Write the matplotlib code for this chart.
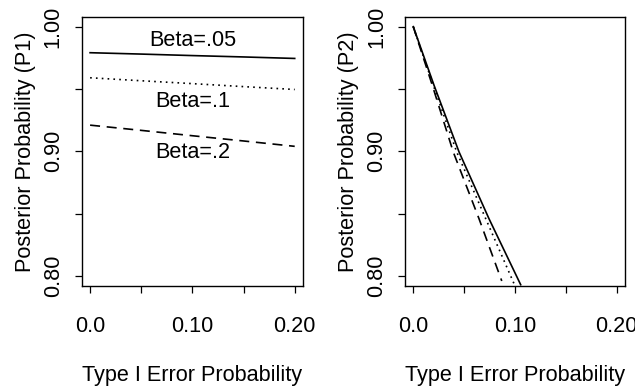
import numpy as np
import matplotlib
matplotlib.use("Agg")
import matplotlib.pyplot as plt

plt.rcParams['font.family'] = ['Liberation Sans', 'DejaVu Sans']

# left panel: P1 against type I error, one line per beta
alpha1 = [0.0, 0.05, 0.10, 0.15, 0.20]
p1_b05 = [0.9791, 0.9780, 0.9768, 0.9757, 0.9745]
p1_b10 = [0.9590, 0.9566, 0.9543, 0.9519, 0.9496]
p1_b20 = [0.9210, 0.9168, 0.9125, 0.9083, 0.9040]

# right panel: P2 against type I error
alpha_b05 = [0.0, 0.0204, 0.0450, 0.0744, 0.1056]
p2_b05 = [1.000, 0.953, 0.8995, 0.846, 0.793]
alpha_b10 = [0.0, 0.0197, 0.0427, 0.0712, 0.0995]
p2_b10 = [1.000, 0.953, 0.8995, 0.846, 0.793]
alpha_b20 = [0.0, 0.0187, 0.0393, 0.0646, 0.0870]
p2_b20 = [1.000, 0.953, 0.8995, 0.846, 0.796]

labels = ["Beta=.05", "Beta=.1", "Beta=.2"]
label_pos = [(0.10, 0.989), (0.10, 0.940), (0.10, 0.899)]

fs = 15.6
solid = '-'
dotted = (0, (1, 2.5))
dashed = (0, (6, 4))

fig = plt.figure(figsize=(6.35, 3.88), dpi=100)
ax1 = fig.add_axes([0.129, 0.263, 0.348, 0.694])
ax2 = fig.add_axes([0.638, 0.263, 0.346, 0.694])

ax1.plot(alpha1, p1_b05, color='black', lw=1.2, linestyle=solid)
ax1.plot(alpha1, p1_b10, color='black', lw=1.2, linestyle=dotted)
ax1.plot(alpha1, p1_b20, color='black', lw=1.2, linestyle=dashed)
for txt, (x, y) in zip(labels, label_pos):
    ax1.text(x, y, txt, ha='center', va='center', fontsize=fs)

ax2.plot(alpha_b05, p2_b05, color='black', lw=1.2, linestyle=solid)
ax2.plot(alpha_b10, p2_b10, color='black', lw=1.2, linestyle=dotted)
ax2.plot(alpha_b20, p2_b20, color='black', lw=1.2, linestyle=dashed)

for ax, yl in [(ax1, "Posterior Probability (P1)"), (ax2, "Posterior Probability (P2)")]:
    ax.set_xlim(-0.008, 0.208)
    ax.set_ylim(0.792, 1.008)
    ax.set_xticks([0.0, 0.05, 0.10, 0.15, 0.20])
    ax.set_xticklabels(["0.0", "", "0.10", "", "0.20"])
    ax.set_yticks([0.80, 0.85, 0.90, 0.95, 1.00])
    ax.set_yticklabels(["0.80", "", "0.90", "", "1.00"], rotation=90, va='center')
    ax.tick_params(direction='out', length=5, width=0.9, labelsize=fs)
    ax.tick_params(axis='x', pad=16.5)
    ax.tick_params(axis='y', pad=8)
    for s in ax.spines.values():
        s.set_linewidth(1.0)
    ax.set_xlabel("Type I Error Probability", fontsize=fs, labelpad=20)
    ax.set_ylabel(yl, fontsize=fs, labelpad=5)

fig.savefig("out.png", dpi=100)
